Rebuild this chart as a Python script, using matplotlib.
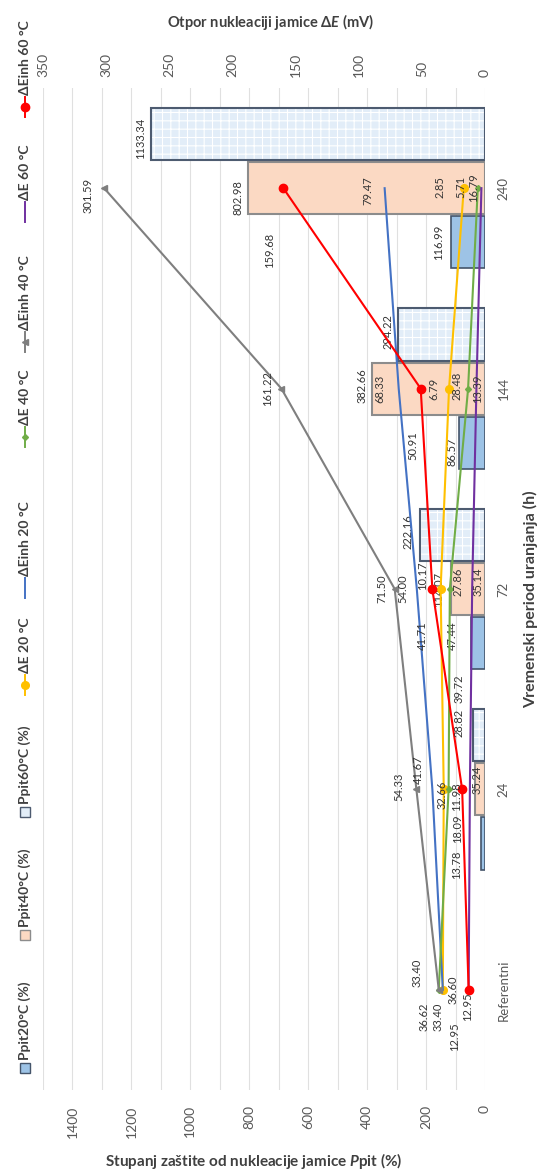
import numpy as np
import matplotlib
matplotlib.use("Agg")
import matplotlib.pyplot as plt
from matplotlib.lines import Line2D
from matplotlib.patches import Rectangle
from matplotlib.ticker import MultipleLocator

plt.rcParams['font.family'] = ['Lato', 'DejaVu Sans']
plt.rcParams['mathtext.fontset'] = 'custom'
plt.rcParams['mathtext.it'] = 'Lato:italic:bold'
plt.rcParams['hatch.linewidth'] = 0.8

# --- data ---
categories = ['Referentni', '24', '72', '144', '240']

# Ppit (%), bars (no bar for the reference)
ppit20 = [np.nan, 13.78, 47.44, 86.57, 116.99]
ppit40 = [np.nan, 35.24, 114.07, 382.66, 802.98]
ppit60 = [np.nan, 39.72, 222.16, 294.22, 1133.34]

# delta E (mV), lines
de20 = [33.40, 32.66, 35.14, 28.48, 16.79]
de_inh20 = [33.40, 41.67, 54.00, 68.33, 79.47]
de40 = [36.60, 28.82, 27.86, 13.39, 5.71]
de_inh40 = [36.62, 54.33, 71.50, 161.22, 301.59]
de60 = [12.95, 11.98, 10.17, 6.79, 2.85]
de_inh60 = [12.95, 18.09, 41.71, 50.91, 159.68]

bar_names = ['Ppit20°C (%)', 'Ppit40°C (%)', 'Ppit60°C (%)']
line_names = ['ΔE 20 °C', 'ΔEinh 20 °C', 'ΔE 40 °C', 'ΔEinh 40 °C', 'ΔE 60 °C', 'ΔEinh 60 °C']

# label offsets in pixels (dx right, dy down), one per category
off_p20 = [None, (-24, 21), (-19, -7), (-7, 9), (-12, 0)]
off_p40 = [None, (2, -10), (-13, 0), (-10, -3), (-10, 9)]
off_p60 = [None, (-14, -47), (-12, -3), (-10, -3), (-10, 4)]
off_de20 = [(-5, 27), (-2, 5), (37, -7), (8, -3), (10, -1)]
off_dei20 = [(-26, -17), (-14, -20), (-14, 0), (-19, 0), (-17, 2)]
off_de40 = [(14, 0), (10, -66), (8, -7), (9, 0), (-17, -1)]
off_dei40 = [(-15, 27), (-18, -3), (-13, 0), (-14, 0), (-16, 7)]
off_de60 = [(-1, 17), (-13, 7), (-50, -13), (-43, 0), (-41, -1)]
off_dei60 = [(-14, 47), (-5, 39), (-10, 47), (-8, 57), (-14, 62)]

W, H = 540, 1171
fig = plt.figure(figsize=(5.4, 11.71), dpi=100)
ax = fig.add_axes([43 / W, 1 - 1090 / H, 442 / W, 1002 / H])
ax2 = ax.twiny()

ypos = np.arange(len(categories))
bh = 0.26
shift = 0.27

# --- bars (Ppit) ---
c20 = dict(fc='#9DC3E6', ec='#44546A')
c40 = dict(fc='#FBD9C3', ec='#8C8C8C')
c60 = dict(fc='#E2EDF8', ec='#4D5B70')
ax.barh(ypos - shift, ppit20, height=bh, color=c20['fc'], edgecolor=c20['ec'], linewidth=1.2, zorder=2)
ax.barh(ypos, ppit40, height=bh, color=c40['fc'], edgecolor=c40['ec'], linewidth=1.5, zorder=2)
ax.barh(ypos + shift, ppit60, height=bh, color=c60['fc'], hatch='++', edgecolor='white', linewidth=0, zorder=2)
ax.barh(ypos + shift, ppit60, height=bh, fill=False, edgecolor=c60['ec'], linewidth=1.5, zorder=3)

# --- lines (delta E) ---
line_styles = [
    (de20, '#FFC000', 'o', 5.5, off_de20),
    (de_inh20, '#4472C4', None, 0, off_dei20),
    (de40, '#70AD47', 'D', 3, off_de40),
    (de_inh40, '#7F7F7F', '<', 4, off_dei40),
    (de60, '#7030A0', None, 0, off_de60),
    (de_inh60, '#FF0000', 'o', 6, off_dei60),
]
for vals, col, mk, ms, _ in line_styles:
    ax2.plot(vals, ypos, color=col, lw=1.5, marker=mk, ms=ms, zorder=4)

# --- axes formatting ---
ax.set_xlim(1500, 0)
ax2.set_xlim(350, 0)
ax.set_ylim(-0.5, 4.5)

ax.set_xticks(np.arange(0, 1401, 200))
ax.xaxis.set_minor_locator(MultipleLocator(100))
ax.tick_params(axis='x', which='both', length=0, labelrotation=90, labelsize=10,
               labelcolor='#595959', pad=11)
ax.grid(axis='x', which='both', color='#E0E0E0', lw=0.8)
ax.set_axisbelow(True)

ax2.set_xticks(np.arange(0, 351, 50))
ax2.tick_params(axis='x', length=0, labelrotation=90, labelsize=10, labelcolor='#595959', pad=8)

ax.set_yticks(ypos)
ax.set_yticklabels(categories)
ax.yaxis.tick_right()
ax.tick_params(axis='y', length=0, labelrotation=90, labelsize=9.5, labelcolor='#595959', pad=9)
for lab in ax.get_yticklabels():
    lab.set_va('center')

for a in (ax, ax2):
    for sp in a.spines.values():
        sp.set_visible(False)

# axis titles
ax.set_xlabel(r'Stupanj zaštite od nukleacije jamice $P$pit (%)', fontsize=11,
              fontweight='bold', color='#404040', va='center', ha='center')
ax.xaxis.set_label_coords(0.477, -0.071)
ax2.set_xlabel(r'Otpor nukleaciji jamice Δ$E$ (mV)', fontsize=10.5,
               fontweight='bold', color='#404040', va='center', ha='center')
ax2.xaxis.set_label_coords(0.514, 1.066)
ax.yaxis.set_label_position('right')
ax.set_ylabel('Vremenski period uranjanja (h)', fontsize=11.5, fontweight='bold',
              color='#404040', rotation=90, va='center', ha='center')
ax.yaxis.set_label_coords(1.104, 0.49)


# --- data labels ---
def put_labels(axis, vals, ys, offsets):
    for v, y, off in zip(vals, ys, offsets):
        if off is None or np.isnan(v):
            continue
        axis.annotate(f'{v:.2f}', (v, y), xytext=(off[0], -off[1]),
                      textcoords='offset pixels', rotation=90, ha='center',
                      va='center', fontsize=8, color='#333333', zorder=6)


put_labels(ax, ppit20, ypos - shift, off_p20)
put_labels(ax, ppit40, ypos, off_p40)
put_labels(ax, ppit60, ypos + shift, off_p60)
for vals, col, mk, ms, offs in line_styles:
    put_labels(ax2, vals, ypos, offs)

# --- legend, drawn rotated down the left edge ---
lx = 25
box_y = [1068, 935, 812]
for name, c, y in zip(bar_names, [c20, c40, c60], box_y):
    fig.add_artist(Rectangle(((lx - 5) / W, 1 - (y + 5) / H), 10 / W, 10 / H,
                             transform=fig.transFigure, facecolor=c['fc'],
                             edgecolor=c['ec'], linewidth=1))
    fig.text(lx / W, 1 - (y - 8) / H, name, rotation=90, ha='center', va='bottom',
             fontsize=10, fontweight='bold', color='#404040')

line_y = [685, 588, 437, 342, 212, 107]
for name, (vals, col, mk, ms, _), y in zip(line_names, line_styles, line_y):
    fig.add_artist(Line2D([lx / W, lx / W], [1 - (y + 10) / H, 1 - (y - 10) / H],
                          transform=fig.transFigure, color=col, lw=1.4))
    if mk is not None:
        fig.add_artist(Line2D([lx / W], [1 - y / H], transform=fig.transFigure,
                              marker=mk, ms=ms, color=col, lw=0))
    fig.text(lx / W, 1 - (y - 12) / H, name, rotation=90, ha='center', va='bottom',
             fontsize=10, fontweight='bold', color='#404040')

fig.savefig('out.png', dpi=100)
